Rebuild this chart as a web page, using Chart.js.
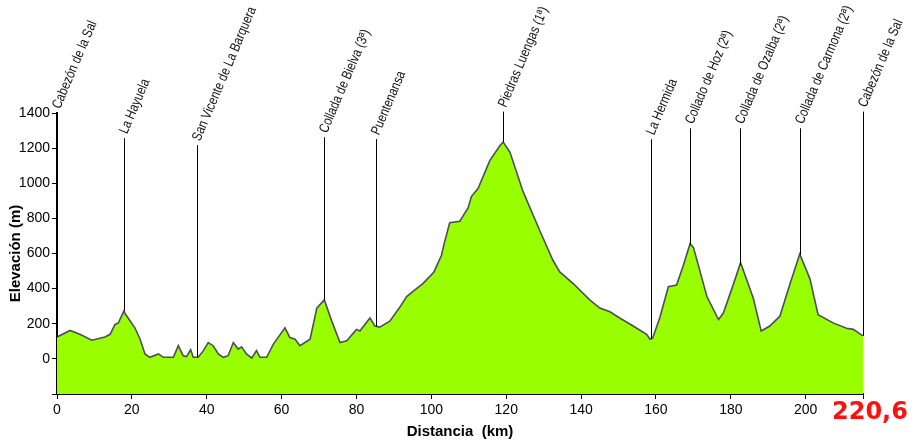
<!DOCTYPE html>
<html>
<head>
<meta charset="utf-8">
<script src="https://cdn.jsdelivr.net/npm/chart.js@4.4.1/dist/chart.umd.min.js"></script>
<style>
  html,body{margin:0;padding:0;background:#fff}
  #wrap{width:918px;height:443px}
</style>
</head>
<body>
<div id="wrap"><canvas id="profile"></canvas></div>
<script>
/* ---- data read from the profile ---- */
const km = [0, 3.5, 6.1, 9.3, 12.8, 14.2, 15.5, 16.4, 17.8, 19.0, 20.8, 22.2, 23.5, 24.8, 27.1, 28.4, 31.1, 32.4, 33.7, 34.6,
  35.7, 36.4, 37.7, 39.1, 40.4, 41.7, 43.1, 44.4, 45.7, 47.1, 48.4, 49.3, 50.6, 52.0, 53.3, 54.2, 56.0, 57.8, 60.9, 62.2,
  63.6, 64.9, 67.6, 69.4, 71.4, 73.4, 75.6, 77.4, 80.0, 80.9, 83.6, 84.9, 86.2, 88.9, 91.6, 93.4, 95.1, 97.8, 100.7, 102.7,
  103.4, 104.9, 107.6, 109.8, 110.7, 112.5, 115.6, 118.3, 119.2, 121.0, 124.5, 129.0, 132.5, 134.3, 137.9, 142.3, 145.0, 147.7, 150.3, 153.9,
  157.5, 158.4, 159.1, 161.0, 163.3, 165.5, 167.3, 169.1, 170.0, 173.6, 176.7, 178.0, 180.6, 182.6, 186.0, 188.1, 190.4, 193.1, 195.7, 198.4,
  201.1, 203.3, 207.3, 210.9, 212.7, 215.3];
const elev = [125, 162, 140, 106, 125, 140, 196, 205, 270, 233, 177, 112, 28, 9, 28, 9, 9, 75, 18, 13,
  52, 9, 9, 47, 93, 75, 28, 9, 18, 93, 56, 69, 28, 5, 47, 9, 9, 84, 177, 121,
  112, 75, 112, 289, 336, 215, 93, 103, 168, 159, 233, 187, 181, 215, 295, 355, 385, 430, 495, 590,
  655, 775, 784, 859, 924, 971, 1129, 1213, 1235, 1176, 952, 728, 560, 495, 429, 336, 289, 268, 233, 187,
  140, 112, 118, 233, 411, 420, 532, 655, 635, 355, 224, 261, 420, 547, 345, 159, 187, 243, 420, 597,
  457, 252, 205, 174, 168, 131];

const kmTicks = [0, 20, 40, 60, 80, 100, 120, 140, 160, 180, 200];
const elevTicks = [-200, 0, 200, 400, 600, 800, 1000, 1200, 1400];

const placeKm = [0, 17.8, 37.4, 71.3, 85.3, 119.2, 158.7, 169.0, 182.4, 198.5, 215.3];
const placeNames = ['Cabezón de la Sal', 'La Hayuela', 'San Vicente de La Barquera', 'Collada de Bielva (3ª)', 'Puentenansa',
  'Piedras Luengas (1ª)', 'La Hermida', 'Collado de Hoz (2ª)', 'Collada de Ozalba (2ª)', 'Collada de Carmona (2ª)', 'Cabezón de la Sal'];
const placeTagElev = [1400, 1257, 1217, 1262, 1251, 1408, 1251, 1313, 1313, 1313, 1408];

const totalLabel = '220,6';
const kmMax = 215.3;

/* ---- helpers ---- */
function elevAt(k){
  for(let i=1;i<km.length;i++){
    if(k<=km[i]){
      const t=(k-km[i-1])/(km[i]-km[i-1]);
      return elev[i-1]+t*(elev[i]-elev[i-1]);
    }
  }
  return elev[elev.length-1];
}

const sans = '"Liberation Sans", Arial, sans-serif';

const placesPlugin = {
  id:'places',
  afterDraw(chart){
    const {ctx, scales:{x,y}} = chart;
    ctx.save();
    placeKm.forEach((k,i)=>{
      const px = Math.round(x.getPixelForValue(k))+0.5;
      const top = y.getPixelForValue(placeTagElev[i]);
      const bot = y.getPixelForValue(elevAt(k));
      ctx.strokeStyle='#000';ctx.lineWidth=1;
      ctx.beginPath();ctx.moveTo(px,top);ctx.lineTo(px,bot);ctx.stroke();
      ctx.save();
      ctx.translate(px-1, top-5);
      ctx.rotate(-67*Math.PI/180);
      ctx.scale(0.82,1); // condensed like the original
      ctx.font='14px '+sans;
      ctx.textAlign='left';ctx.textBaseline='middle';
      ctx.fillStyle='#111';
      ctx.fillText(placeNames[i],0,0);
      ctx.restore();
    });
    // total distance
    ctx.font='bold 24px "DejaVu Sans", sans-serif';
    ctx.fillStyle='#ff1010';
    ctx.textAlign='left';ctx.textBaseline='alphabetic';
    ctx.fillText(totalLabel, x.right-31, x.top+25);
    ctx.restore();
  }
};

const points = km.map((k,i)=>({x:k,y:elev[i]}));

new Chart(document.getElementById('profile'),{
  type:'line',
  data:{
    datasets:[{
      data:points,
      borderColor:'#4d4d5c',
      borderWidth:1.6,
      backgroundColor:'#99ff00',
      fill:'start',
      pointRadius:0,
      tension:0
    }]
  },
  options:{
    responsive:true,maintainAspectRatio:false,animation:false,
    layout:{padding:{top:113,right:55,left:0,bottom:0}},
    plugins:{legend:{display:false},tooltip:{enabled:false}},
    scales:{
      x:{
        type:'linear',min:0,max:kmMax,
        afterBuildTicks:s=>{s.ticks=[...kmTicks,kmMax].map(v=>({value:v}));},
        afterFit:s=>{s.height=49;},
        grid:{drawOnChartArea:false,drawTicks:true,tickLength:5,color:'#000',lineWidth:1},
        border:{color:'#000',width:2},
        ticks:{color:'#000',font:{family:sans,size:14},padding:3,maxRotation:0,autoSkip:false,
          callback:v=>kmTicks.includes(v)?v:''},
        title:{display:true,text:'Distancia  (km)',color:'#000',
          font:{family:sans,size:15,weight:'bold'},padding:{top:0,bottom:2}}
      },
      y:{
        min:-200,max:1400,
        afterBuildTicks:s=>{s.ticks=elevTicks.map(v=>({value:v}));},
        afterFit:s=>{s.width=57;},
        grid:{drawOnChartArea:false,drawTicks:true,tickLength:5,color:'#000',lineWidth:1},
        border:{color:'#000',width:2},
        ticks:{color:'#000',font:{family:sans,size:14},padding:2,autoSkip:false,
          callback:v=>v===-200?'':v},
        title:{display:true,text:'Elevación (m)',color:'#000',
          font:{family:sans,size:15,weight:'bold'},padding:{top:7,bottom:0}}
      }
    }
  },
  plugins:[placesPlugin]
});
</script>
</body>
</html>
